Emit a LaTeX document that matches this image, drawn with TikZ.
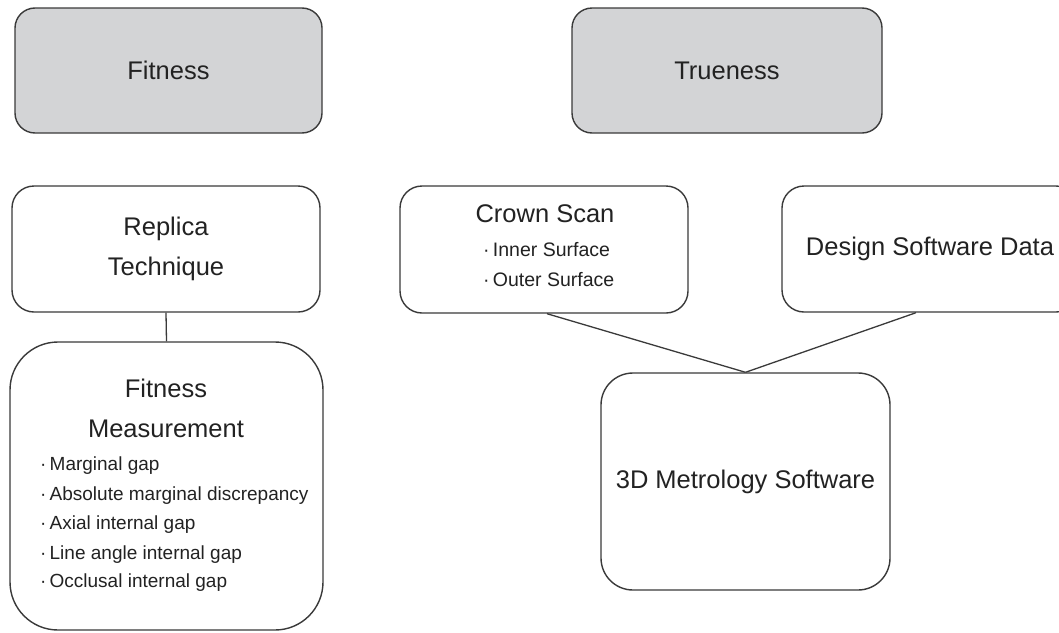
\documentclass[tikz,border=0pt]{standalone}
\usepackage{fontspec}
\setmainfont{Liberation Sans}
\definecolor{boxline}{HTML}{3A3A3A}
\definecolor{headfill}{HTML}{D3D4D6}
\definecolor{ink}{HTML}{222222}
\tikzset{
  box/.style={draw=boxline, line width=1.4pt, fill=white, inner sep=0pt, align=center,
              font=\fontsize{25.5}{40}\selectfont, text=ink},
  headbox/.style={box, fill=headfill},
  big/.style={font=\fontsize{25.5}{30}\selectfont, text=ink, inner sep=0pt,
              text height=0.72em, text depth=0.22em},
  item/.style={font=\fontsize{19}{24}\selectfont, text=ink, inner sep=0pt,
               text height=0.72em, text depth=0.22em},
  link/.style={draw=boxline, line width=1.3pt}
}
\begin{document}
\begin{tikzpicture}[x=1pt,y=-1pt]
\useasboundingbox (0,0) rectangle (1059,632);

% top-level headings
\node[headbox, rounded corners=20pt, minimum width=307pt, minimum height=125pt] (fit) at (168.5,70.5) {Fitness};
\node[headbox, rounded corners=20pt, minimum width=310pt, minimum height=125pt] (true) at (727,70.5) {Trueness};

% fitness branch
\node[box, rounded corners=22pt, minimum width=308pt, minimum height=126pt] (rep) at (166,249) {Replica\\Technique};
\node[box, rounded corners=48pt, minimum width=313pt, minimum height=288pt] (meas) at (166.5,486) {};
\node[big] (measA) at (166,395) {Fitness};
\node[big] (measB) at (166,435) {Measurement};
\node[item, anchor=west] (m1) at (40,468) {·\,Marginal gap};
\node[item, anchor=west] (m2) at (40,498) {·\,Absolute marginal discrepancy};
\node[item, anchor=west] (m3) at (40,527) {·\,Axial internal gap};
\node[item, anchor=west] (m4) at (40,557) {·\,Line angle internal gap};
\node[item, anchor=west] (m5) at (40,585) {·\,Occlusal internal gap};

% trueness branch
\node[box, rounded corners=22pt, minimum width=288pt, minimum height=127pt] (crown) at (544,249.5) {};
\node[big] (crownT) at (545,220) {Crown Scan};
\node[item, anchor=west, font=\fontsize{19.5}{24}\selectfont] (c1) at (483,254) {·\,Inner Surface};
\node[item, anchor=west, font=\fontsize{19.5}{24}\selectfont] (c2) at (483,284) {·\,Outer Surface};
\node[box, rounded corners=22pt, minimum width=296pt, minimum height=126pt] (design) at (930,249) {Design Software Data};
\node[box, rounded corners=32pt, minimum width=289pt, minimum height=217pt] (metro) at (745.5,481.5) {3D Metrology Software};

% connectors
\draw[link] (rep.south) -- (meas.north);
\draw[link] ([xshift=3pt]crown.south) -- (metro.north);
\draw[link] ([xshift=-14pt]design.south) -- (metro.north);
\end{tikzpicture}
\end{document}
